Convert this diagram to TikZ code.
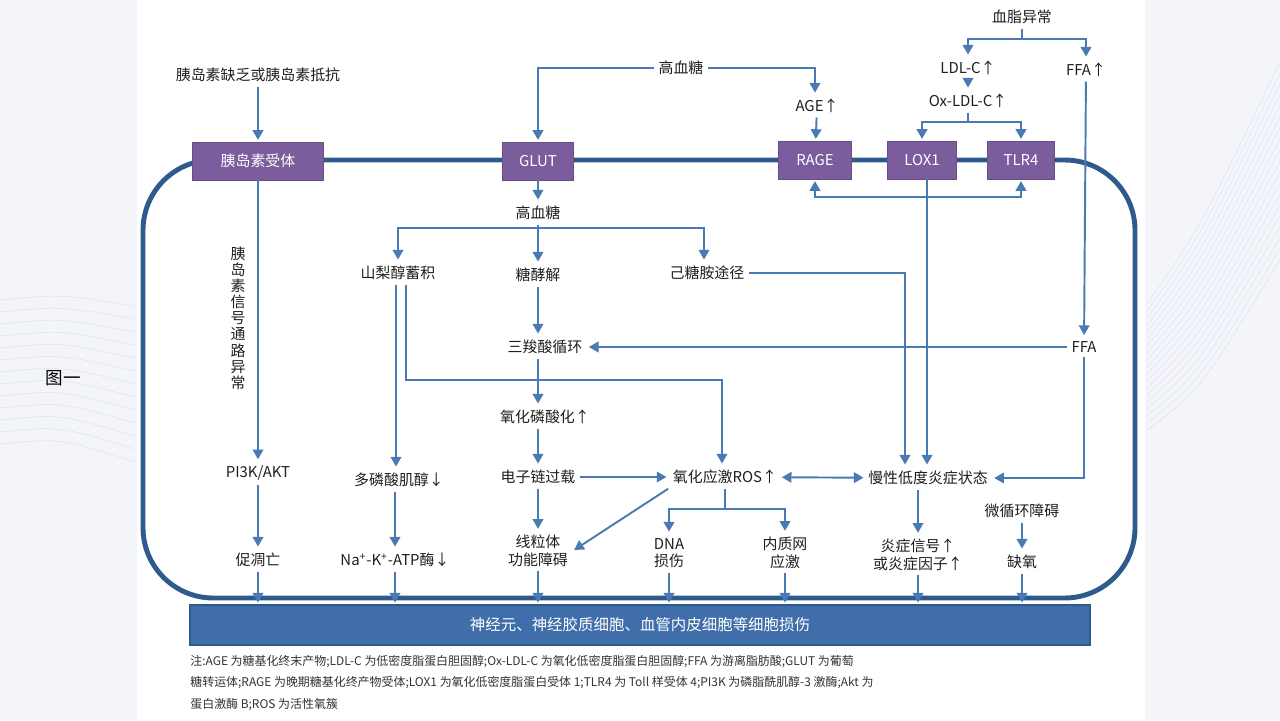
\documentclass[tikz,border=0pt]{standalone}
\usepackage{fontspec}
\setmainfont{Noto Sans CJK SC}
\usetikzlibrary{arrows.meta,positioning,calc}

\definecolor{lineblue}{HTML}{4A7AB4}
\definecolor{membblue}{HTML}{2F5A8C}
\definecolor{recpurple}{HTML}{7B5C9D}
\definecolor{barblue}{HTML}{3F6EAA}
\definecolor{pagegrey}{HTML}{F3F5F8}

\begin{document}
\begin{tikzpicture}[x=0.02cm,y=-0.02cm,
    lbl/.style={font=\fontsize{8.5}{10}\selectfont, text=black!88, inner sep=2.5pt},
    receptor/.style={fill=recpurple, draw=recpurple!85!black, text=white,
      minimum height=0.76cm, font=\fontsize{8.5}{10}\selectfont},
    flow/.style={lineblue, line width=1.1pt, shorten >=1pt,
      -{Triangle[length=5.5pt,width=6pt]}},
    plain/.style={lineblue, line width=1.1pt},
    membrane/.style={membblue, line width=2.8pt, rounded corners=40pt}]

    % Page and panel
    \useasboundingbox (0,0) rectangle (1280,720);
    \fill[pagegrey] (0,0) rectangle (1280,720);
    \fill[white] (137,0) rectangle (1145,720);
    \foreach \k in {0,...,12}
        \draw[blue!25!white, very thin, opacity=0.5] (0,300+\k*12) .. controls (60,294+\k*12) .. (135,306+\k*13);
    \foreach \k in {0,...,18}
        \draw[blue!25!white, very thin, opacity=0.5] (1147,430-\k*7) .. controls (1200,390-\k*9) .. (1280,260-\k*11);
    \node[font=\fontsize{10}{12}\selectfont] (figlabel) at (63,378) {图一};

    % Cell membrane
    \draw[membrane] (1021,160) -- (143,160) -- (143,598) -- (1135,598) -- (1135,160) -- (1021,160);

    % Receptors on the membrane
    \node[receptor, minimum width=2.62cm] (insr) at (258,161) {胰岛素受体};
    \node[receptor, minimum width=1.42cm] (glut) at (538,161) {GLUT};
    \node[receptor, minimum width=1.46cm] (rage) at (815,160) {RAGE};
    \node[receptor, minimum width=1.38cm] (lox) at (922,160) {LOX1};
    \node[receptor, minimum width=1.34cm] (tlr) at (1021,160) {TLR4};

    % Outside the cell
    \node[lbl] (deficit) at (258,75) {胰岛素缺乏或胰岛素抵抗};
    \node[lbl] (hgtop) at (681,68) {高血糖};
    \node[lbl] (age) at (817,106) {AGE↑};
    \node[lbl] (lipid) at (1022,17) {血脂异常};
    \node[lbl] (ldl) at (968,68) {LDL-C↑};
    \node[lbl] (ffatop) at (1086,70) {FFA↑};
    \node[lbl] (oxldl) at (968,101) {Ox-LDL-C↑};

    % Inside the cell
    \node[lbl] (hg) at (538,213) {高血糖};
    \node[lbl] (sorb) at (398,273) {山梨醇蓄积};
    \node[lbl] (glyc) at (538,275) {糖酵解};
    \node[lbl] (hexo) at (707,273) {己糖胺途径};
    \node[lbl] (tca) at (545,347) {三羧酸循环};
    \node[lbl] (ffa) at (1084,347) {FFA};
    \node[lbl] (oxphos) at (545,417) {氧化磷酸化↑};
    \node[lbl, align=center, font=\fontsize{8.5}{9.2}\selectfont] (vpath) at (238,318) {胰\\岛\\素\\信\\号\\通\\路\\异\\常};
    \node[lbl] (pi3k) at (258,473) {PI3K/AKT};
    \node[lbl] (inos) at (399,480) {多磷酸肌醇↓};
    \node[lbl] (etc) at (538,477) {电子链过载};
    \node[lbl] (ros) at (725,477) {氧化应激ROS↑};
    \node[lbl] (infl) at (928,478) {慢性低度炎症状态};
    \node[lbl] (micro) at (1022,511) {微循环障碍};
    \node[lbl] (apop) at (258,560) {促凋亡};
    \node[lbl] (atp) at (395,560) {Na\textsuperscript{+}-K\textsuperscript{+}-ATP酶↓};
    \node[lbl, align=center] (mito) at (538,551) {线粒体\\功能障碍};
    \node[lbl, align=center] (dna) at (669,553) {DNA\\损伤};
    \node[lbl, align=center] (er) at (785,553) {内质网\\应激};
    \node[lbl, align=center] (sig) at (918,555) {炎症信号↑\\或炎症因子↑};
    \node[lbl] (hypox) at (1022,562) {缺氧};

    % Damage bar
    \node[fill=barblue, draw=membblue, line width=0.8pt, minimum width=18cm, minimum height=0.8cm,
        text=white, font=\fontsize{8.8}{10}\selectfont] (cells) at (640,625) {神经元、神经胶质细胞、血管内皮细胞等细胞损伤};

    % Note
    \node[anchor=north west, align=left, inner sep=0pt, text=black!80,
        font=\fontsize{6.8}{12.2}\selectfont] (note) at (190,655)
        {注:AGE 为糖基化终末产物;LDL-C 为低密度脂蛋白胆固醇;Ox-LDL-C 为氧化低密度脂蛋白胆固醇;FFA 为游离脂肪酸;GLUT 为葡萄\\
         糖转运体;RAGE 为晚期糖基化终产物受体;LOX1 为氧化低密度脂蛋白受体 1;TLR4 为 Toll 样受体 4;PI3K 为磷脂酰肌醇-3 激酶;Akt 为\\
         蛋白激酶 B;ROS 为活性氧簇};

    % Insulin pathway
    \draw[flow] (deficit) -- (insr);
    \draw[flow] (insr) -- (pi3k);
    \draw[flow] (pi3k) -- (apop);

    % High glucose outside
    \draw[flow] (hgtop.west) -| (glut.north);
    \draw[flow] (hgtop.east) -| (rage.north |- age.north);
    \draw[flow] (age) -- (rage);

    % Dyslipidaemia
    \coordinate (lipsplit) at (1022,39);
    \draw[plain] (lipid) -- (lipsplit);
    \draw[flow] (lipsplit) -| (ldl.north);
    \draw[flow] (lipsplit) -| (ffatop.north);
    \draw[flow] (ldl) -- (oxldl);
    \coordinate (oxsplit) at (968,122);
    \draw[plain] (oxldl) -- (oxsplit);
    \draw[flow] (oxsplit) -| (lox.north);
    \draw[flow] (oxsplit) -| (tlr.north);
    \draw[flow] (ffatop) -- (ffa);

    % GLUT and glucose branches
    \draw[flow] (glut) -- (hg);
    \coordinate (hgsplit) at (538,228);
    \draw[plain] (hg) -- (hgsplit);
    \draw[flow] (hgsplit) -| (sorb.north);
    \draw[flow] (hgsplit) -- (glyc.north);
    \draw[flow] (hgsplit) -| ($(hexo.north)+(-3,0)$);

    % Sorbitol
    \draw[flow] ($(sorb.south)+(-2,0)$) -- ($(inos.north)+(-3,0)$);
    \coordinate (sorbbend) at (722,380);
    \draw[flow] ($(sorb.south)+(8,0)$) |- (sorbbend) -- (sorbbend |- ros.north);
    \draw[flow] (atp.north |- inos.south) -- (atp.north);

    % Hexosamine and LOX1 to inflammation
    \draw[flow] (hexo.east) -| ($(infl.north)+(-23,0)$);
    \draw[flow] ($(lox.south)+(5,0)$) -- ($(infl.north)+(-1,0)$);
    \coordinate (fb) at (927,197);
    \draw[flow] (fb) -| (rage.south);
    \draw[flow] (fb) -| (tlr.south);

    % FFA
    \draw[flow] (ffa.west) -- (tca.east);
    \draw[flow] (ffa.south) |- (infl.east);

    % Glycolysis chain
    \draw[flow] (glyc.south) -- (glyc.south |- tca.north);
    \draw[flow] (glyc.south |- tca.south) -- (glyc.south |- oxphos.north);
    \draw[flow] (glyc.south |- oxphos.south) -- (etc.north);
    \draw[flow] (etc) -- (mito);
    \draw[flow] (etc) -- (ros);
    \draw[flow] (ros.south west) -- (mito.east);
    \draw[lineblue, line width=1.1pt, {Triangle[length=5.5pt,width=6pt]}-{Triangle[length=5.5pt,width=6pt]}] (ros) -- (infl);

    % ROS consequences
    \coordinate (rossplit) at (725,509);
    \draw[plain] (ros.south) -- (rossplit);
    \draw[flow] (rossplit) -| (dna.north);
    \draw[flow] (rossplit) -| (er.north);
    \draw[flow] (sig.north |- infl.south) -- (sig.north);
    \draw[flow] (micro) -- (hypox);

    % Into the damage bar
    \foreach \n in {apop,atp,mito,dna,er,sig,hypox}
        \draw[flow] (\n.south) -- (\n.south |- cells.north);
\end{tikzpicture}
\end{document}
